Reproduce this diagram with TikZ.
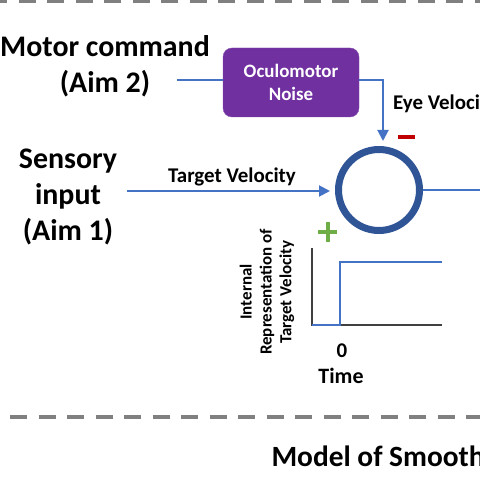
\documentclass[tikz,border=0pt]{standalone}
\usepackage{fontspec}
\setmainfont{Carlito}
\usetikzlibrary{arrows.meta, positioning}

\definecolor{lineblue}{RGB}{68, 114, 196}
\definecolor{ringblue}{RGB}{47, 85, 151}
\definecolor{noisepurple}{RGB}{112, 48, 160}
\definecolor{minusred}{RGB}{192, 0, 0}
\definecolor{plusgreen}{RGB}{112, 173, 71}
\definecolor{dashgray}{RGB}{128, 128, 128}
\definecolor{axisgray}{RGB}{64, 64, 64}

\tikzset{
  sigline/.style={draw=lineblue, line width=2bp},
  sigarrow/.style={sigline, -{Triangle[length=11bp, width=11bp]}},
  divider/.style={draw=dashgray, line width=4bp, dash pattern=on 17bp off 11.5bp},
  biglabel/.style={align=center, font=\fontsize{30}{36.5}\selectfont\bfseries},
  smalllabel/.style={font=\fontsize{21}{24}\selectfont\bfseries, inner sep=0pt}
}

\begin{document}
\begin{tikzpicture}[x=1bp, y=-1bp]
  \useasboundingbox (0,0) rectangle (480,480);
  \clip (0,0) rectangle (480,480);

  % Dividers
  \draw[divider] (-10,1) -- (490,1);
  \draw[divider] (10,417) -- (490,417);

  % Inputs
  \node[biglabel] (motor) at (105,66) {Motor command\\(Aim 2)};
  \node[biglabel] (sensory) at (68,197) {Sensory\\input\\(Aim 1)};

  % Noise box
  \node[draw=noisepurple!85!white, fill=noisepurple, rounded corners=9bp, minimum width=136bp, minimum height=69bp, align=center, text=white, font=\fontsize{19}{22.5}\selectfont\bfseries] (noise) at (291,82.5) {Oculomotor\\Noise};

  % Summing junction
  \node[circle, draw=ringblue, line width=7bp, minimum size=81bp, inner sep=0pt] (sum) at (379,190) {};

  % Connectors
  \coordinate (mcout) at (177,80);
  \coordinate (tvin) at (127,191);
  \coordinate (out) at (490,190);
  \draw[sigline] (mcout) -- (noise.west |- mcout);
  \draw[sigarrow, shorten >=5bp] (noise.east |- mcout) -| ([xshift=4bp]sum.north);
  \draw[sigarrow, shorten >=5bp] (tvin) -- (sum.west |- tvin);
  \draw[sigline] (sum.east) -- (out);

  \node[smalllabel] (tv) at (232,177) {Target Velocity};
  \node[smalllabel, anchor=west] (eyevel) at (393,104) {Eye Velocity};

  % Signs
  \draw[minusred, line width=4bp] (398,137) -- (415,137);
  \draw[plusgreen, line width=4bp] (318,232) -- (337,232) (327.5,222) -- (327.5,242);

  % Step response
  \draw[axisgray, line width=2bp] (312,248) -- (312,325) -- (442,325);
  \draw[lineblue, line width=1.5bp] (312,325) -- (340,325) -- (340,262) -- (442,262);
  \node[rotate=90, align=center, font=\fontsize{17}{20}\selectfont\bfseries] (ylab) at (267,292) {Internal\\Representation of\\Target Velocity};
  \node[font=\fontsize{21}{24}\selectfont\bfseries] (zero) at (342,351) {0};
  \node[font=\fontsize{22}{24}\selectfont\bfseries] (time) at (341,376) {Time};

  % Title
  \node[anchor=west, font=\fontsize{29.5}{34}\selectfont\bfseries] (title) at (268,456) {Model of Smooth Pursuit};
\end{tikzpicture}
\end{document}
